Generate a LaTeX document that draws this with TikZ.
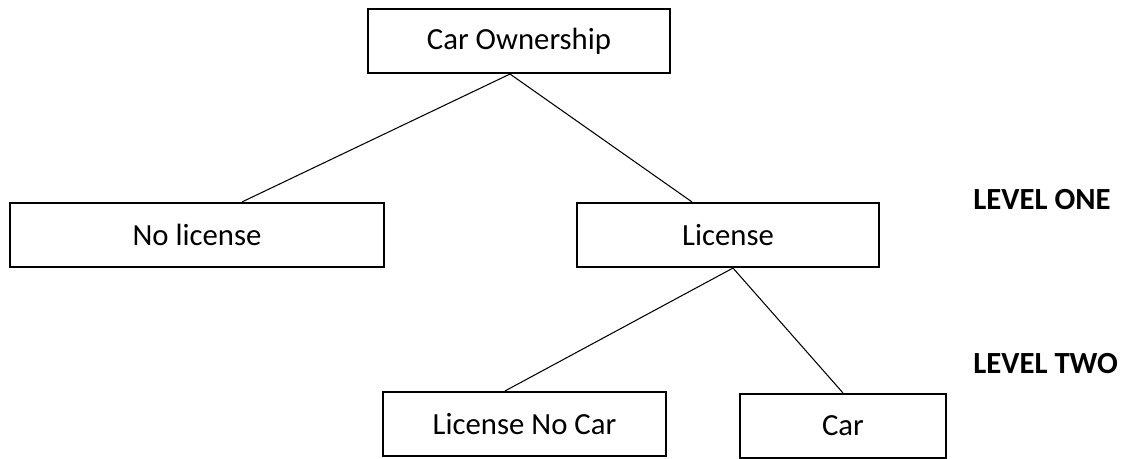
\documentclass[tikz,border=0pt]{standalone}
\usepackage{fontspec}
\setmainfont{Carlito}

\tikzset{
  box/.style={draw, line width=1.2pt, inner sep=0pt, minimum height=1.28cm,
    font=\fontsize{17.5}{21}\selectfont},
  link/.style={line width=0.6pt},
  level/.style={anchor=west, inner sep=0pt, font=\fontsize{17.5}{21}\selectfont\bfseries}
}

\begin{document}
\begin{tikzpicture}[x=0.02cm, y=-0.02cm]
				\useasboundingbox (0,0) rectangle (1125,459);
				\node[box, minimum width=6.04cm] (own) at (519,41) {Car Ownership};
				\node[box, minimum width=7.48cm] (nolic) at (197,235) {No license};
				\node[box, minimum width=6.04cm] (lic) at (728,235) {License};
				\node[box, minimum width=5.66cm] (lnc) at (524.5,424) {License No Car};
				\node[box, minimum width=4.12cm] (car) at (843,426) {Car};
				\node[level] (one) at (973,200) {LEVEL ONE};
				\node[level] (two) at (973,364) {LEVEL TWO};
				% branches
				\draw[link] ([xshift=-0.18cm]own.south) -- ([xshift=0.9cm]nolic.north);
				\draw[link] ([xshift=-0.18cm]own.south) -- ([xshift=-0.72cm]lic.north);
				\draw[link] ([xshift=0.1cm]lic.south) -- ([xshift=-0.39cm]lnc.north);
				\draw[link] ([xshift=0.1cm]lic.south) -- (car.north);
			\end{tikzpicture}
\end{document}
